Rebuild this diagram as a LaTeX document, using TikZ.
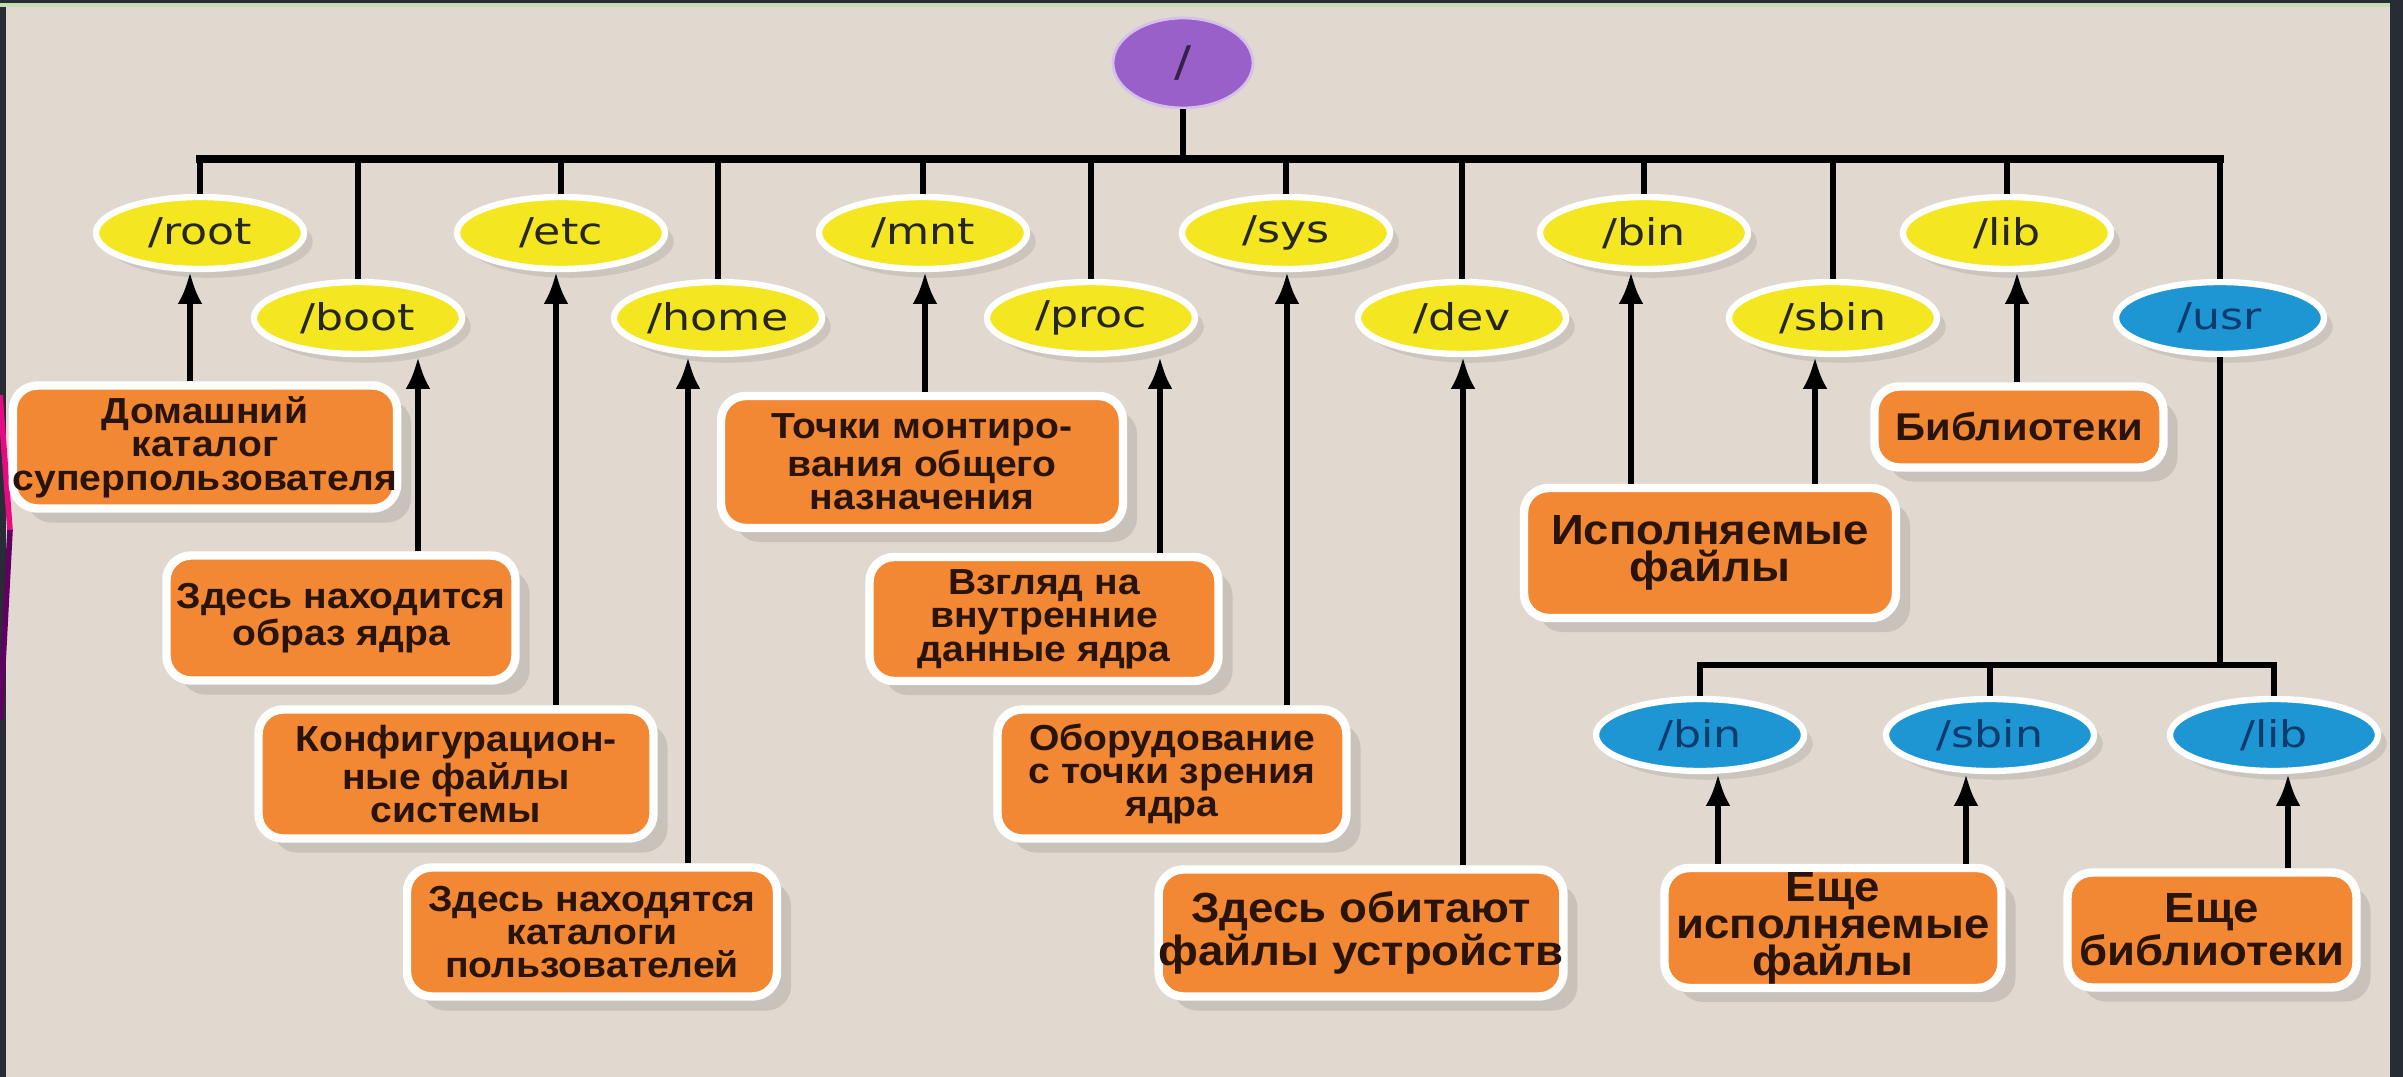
\documentclass[tikz,border=0pt]{standalone}
\usepackage{fontspec}
\setmainfont{Liberation Sans}
\newfontfamily\dirfont[FakeStretch=1.2]{DejaVu Sans}
\newfontfamily\notefont[FakeStretch=1.08]{Liberation Sans}
\usepackage{xcolor}
\usepackage{tikz}
\usetikzlibrary{arrows.meta,shapes.geometric,shadows}

\definecolor{bgbeige}{RGB}{225,217,208}
\definecolor{framegray}{RGB}{40,44,52}
\definecolor{topgreen}{RGB}{196,222,178}
\definecolor{rootpurple}{RGB}{152,96,200}
\definecolor{diryellow}{RGB}{244,230,32}
\definecolor{usrblue}{RGB}{30,150,212}
\definecolor{noteorange}{RGB}{243,136,52}
\definecolor{notetext}{RGB}{40,20,10}
\definecolor{bluetext}{RGB}{12,60,110}

\begin{document}
\begin{tikzpicture}[x=1cm,y=1cm]
\tikzstyle{dir} = [ellipse, draw=white, line width=1.8pt, fill=diryellow, minimum width=2.08cm, minimum height=0.72cm, inner sep=0pt, text=black!85, font=\dirfont\fontsize{10.5}{12}\selectfont, drop shadow={shadow xshift=2.5pt, shadow yshift=-2.5pt, opacity=0.22}]
\tikzstyle{sub} = [dir, fill=usrblue, text=bluetext]
\tikzstyle{top} = [ellipse, draw=rootpurple!40!white, line width=0.8pt, fill=rootpurple, minimum width=1.40cm, minimum height=0.90cm, inner sep=0pt, text=rootpurple!35!black, font=\dirfont\fontsize{12}{14}\selectfont]
\tikzstyle{note} = [rounded corners=7pt, draw=white, line width=2.4pt, fill=noteorange, inner sep=0pt, align=center, text=notetext, font=\notefont\fontsize{10.3}{9.5}\bfseries, drop shadow={shadow xshift=4pt, shadow yshift=-4pt, opacity=0.25}]
\tikzstyle{bignote} = [note, font=\notefont\fontsize{12}{10.5}\bfseries]
\tikzstyle{bar} = [line width=2.3pt, line cap=rect]
\tikzstyle{drop} = [line width=1.7pt]
\tikzstyle{arr} = [line width=1.5pt, -{Latex[length=9pt,width=7pt]}]

\useasboundingbox (0,0) rectangle (24.03,-10.77);
\fill[framegray] (0,0) rectangle (24.03,-10.77);
\fill[bgbeige] (0.06,-0.07) rectangle (23.90,-10.77);
\fill[topgreen] (0,-0.03) rectangle (23.90,-0.07);
\draw[magenta!85!purple, line width=1.6pt] (0,-3.95) -- (0.10,-5.30);
\draw[violet!75!black, line width=1.6pt] (0.10,-5.30) -- (0,-7.20);

\node (fsroot) [top] at (11.83,-0.63) {/};

\node (root) [dir] at (2.00,-2.33) {/root};
\node (boot) [dir] at (3.58,-3.18) {/boot};
\node (etc) [dir] at (5.61,-2.33) {/etc};
\node (home) [dir] at (7.18,-3.18) {/home};
\node (mnt) [dir] at (9.23,-2.33) {/mnt};
\node (proc) [dir] at (10.91,-3.18) {/proc};
\node (sys) [dir] at (12.86,-2.33) {/sys};
\node (dev) [dir] at (14.62,-3.18) {/dev};
\node (bin) [dir] at (16.44,-2.33) {/bin};
\node (sbin) [dir] at (18.33,-3.18) {/sbin};
\node (lib) [dir] at (20.07,-2.33) {/lib};
\node (usr) [sub] at (22.20,-3.18) {/usr};
\node (ubin) [sub] at (17.00,-7.35) {/bin};
\node (usbin) [sub] at (19.90,-7.35) {/sbin};
\node (ulib) [sub] at (22.74,-7.35) {/lib};

\node (n1) [note, minimum width=3.77cm, minimum height=1.23cm] at (2.05,-4.47) {Домашний\\каталог\\суперпользователя};
\node (n2) [note, minimum width=3.49cm, minimum height=1.25cm] at (3.41,-6.18) {Здесь находится\\образ ядра};
\node (n3) [note, minimum width=3.95cm, minimum height=1.29cm] at (4.56,-7.74) {Конфигурацион-\\ные файлы\\системы};
\node (n4) [note, minimum width=3.70cm, minimum height=1.29cm] at (5.92,-9.32) {Здесь находятся\\каталоги\\пользователей};
\node (n5) [note, minimum width=4.02cm, minimum height=1.32cm] at (9.22,-4.62) {Точки монтиро-\\вания общего\\назначения};
\node (n6) [note, minimum width=3.49cm, minimum height=1.24cm] at (10.44,-6.19) {Взгляд на\\внутренние\\данные ядра};
\node (n7) [note, minimum width=3.49cm, minimum height=1.29cm] at (11.72,-7.74) {Оборудование\\с точки зрения\\ядра};
\node (n8) [bignote, minimum width=4.00cm, minimum height=1.27cm] at (13.61,-9.33) {Здесь обитают\\файлы устройств};
\node (n9) [bignote, minimum width=3.72cm, minimum height=1.30cm] at (17.10,-5.53) {Исполняемые\\файлы};
\node (n10) [note, font=\notefont\fontsize{11}{10}\bfseries, minimum width=2.89cm, minimum height=0.81cm] at (20.19,-4.27) {Библиотеки};
\node (n11) [bignote, minimum width=3.37cm, minimum height=1.20cm] at (18.33,-9.28) {Еще\\исполняемые\\файлы};
\node (n12) [bignote, minimum width=2.89cm, minimum height=1.15cm] at (22.12,-9.30) {Еще\\библиотеки};

\coordinate (barL) at (2.00,-1.59);
\coordinate (barR) at (22.20,-1.59);
\coordinate (subL) at (17.00,-6.65);
\coordinate (subR) at (22.74,-6.65);

\draw[drop] (fsroot.south) -- (fsroot.south |- barL);
\draw[bar] (barL) -- (barR);
\foreach \n in {root,boot,etc,home,mnt,proc,sys,dev,bin,sbin,lib,usr}
\draw[drop] (\n.north) -- (\n.north |- barL);
\draw[drop] (usr.south) -- (usr.south |- subL);
\draw[drop, line cap=rect] (subL) -- (subR);
\foreach \n in {ubin,usbin,ulib}
\draw[drop] (\n.north) -- (\n.north |- subL);

\foreach \from/\to/\x in {n1/root/1.90, n2/boot/4.18, n3/etc/5.56, n4/home/6.88, n5/mnt/9.25, n6/proc/11.60, n7/sys/12.87, n8/dev/14.63, n9/bin/16.31, n9/sbin/18.15, n10/lib/20.17, n11/ubin/17.18, n11/usbin/19.66, n12/ulib/22.88}
\draw[arr] (\x,0 |- \from.north) -- (\x,0 |- \to.south);
\end{tikzpicture}
\end{document}
